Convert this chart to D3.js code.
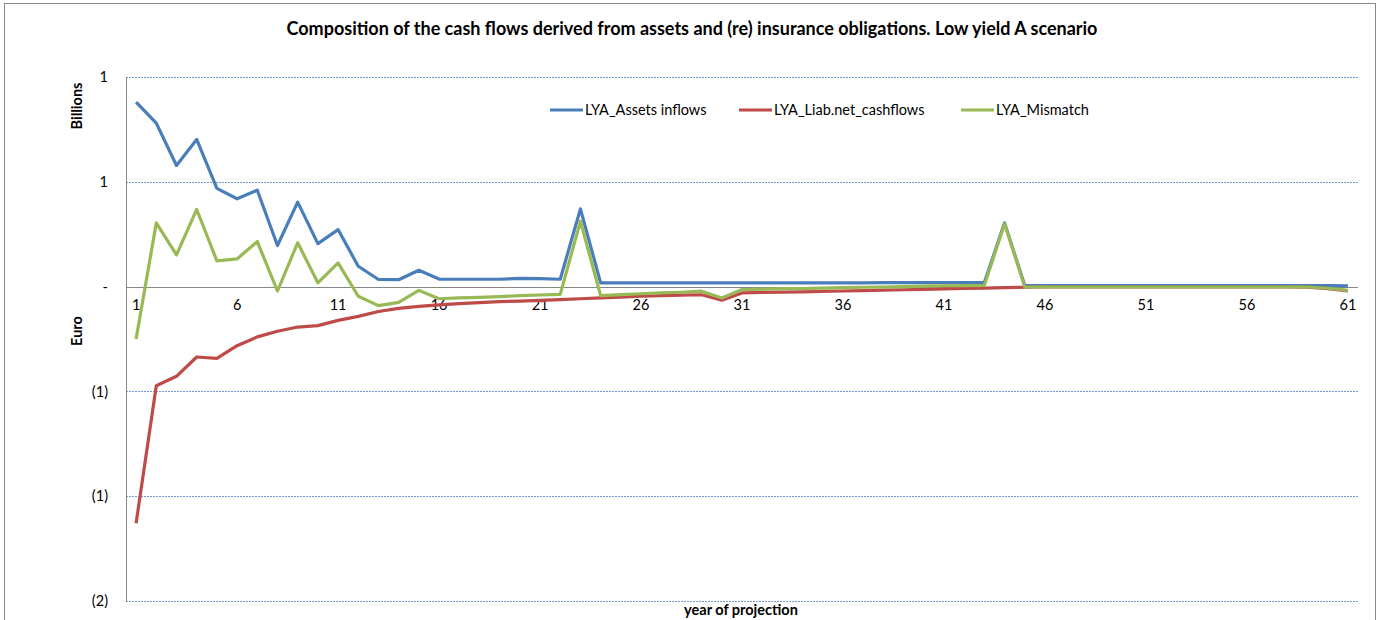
<!DOCTYPE html>
<html><head><meta charset="utf-8">
<script src="https://cdn.jsdelivr.net/npm/d3@7"></script>
<style>body{margin:0;background:#fff}svg{display:block}text{font-family:Lato,"Open Sans",sans-serif}</style>
</head><body><svg id="c" width="1381" height="620"></svg>
<script>
const years = d3.range(1, 62);
const assets = [0.88,0.78,0.578,0.702,0.469,0.419,0.46,0.196,0.403,0.205,0.272,0.097,0.034,0.033,0.078,0.036,0.035,0.035,0.035,0.039,0.038,0.035,0.371,0.018,0.018,0.018,0.018,0.018,0.018,0.018,0.018,0.018,0.018,0.018,0.018,0.018,0.018,0.019,0.019,0.019,0.019,0.019,0.019,0.304,0.005,0.005,0.005,0.005,0.005,0.005,0.005,0.005,0.005,0.005,0.005,0.005,0.005,0.005,0.005,0.005,0.003];
const liab = [-1.129,-0.473,-0.428,-0.336,-0.342,-0.282,-0.240,-0.213,-0.193,-0.186,-0.161,-0.142,-0.119,-0.104,-0.094,-0.087,-0.081,-0.076,-0.072,-0.069,-0.066,-0.062,-0.058,-0.054,-0.050,-0.046,-0.043,-0.041,-0.039,-0.065,-0.030,-0.028,-0.026,-0.025,-0.023,-0.021,-0.019,-0.017,-0.015,-0.013,-0.011,-0.009,-0.007,-0.005,-0.003,-0.002,-0.002,-0.002,-0.002,-0.002,-0.002,-0.002,-0.002,-0.002,-0.002,-0.002,-0.002,-0.002,-0.003,-0.010,-0.020];
const mismatch = [-0.25,0.304,0.151,0.368,0.123,0.132,0.215,-0.021,0.209,0.018,0.113,-0.046,-0.091,-0.075,-0.018,-0.058,-0.054,-0.051,-0.048,-0.043,-0.040,-0.037,0.312,-0.043,-0.038,-0.034,-0.030,-0.027,-0.022,-0.054,-0.014,-0.012,-0.010,-0.009,-0.007,-0.005,-0.003,-0.002,0.0,0.002,0.004,0.005,0.006,0.30,-0.002,-0.002,-0.002,-0.002,-0.002,-0.002,-0.002,-0.002,-0.002,-0.002,-0.002,-0.002,-0.002,-0.002,-0.002,-0.008,-0.018];
const yTicks = [1.0, 0.5, 0, -0.5, -1.0, -1.5];
const yTickLabels = ["1", "1", "-", "(1)", "(1)", "(2)"];
const xTickYears = [1,6,11,16,21,26,31,36,41,46,51,56,61];
const seriesNames = ["LYA_Assets inflows", "LYA_Liab.net_cashflows", "LYA_Mismatch"];
const colors = ["#4A7EBB", "#BE4B48", "#98B954"];

const svg = d3.select("#c");
svg.append("rect").attr("x",4.5).attr("y",3.5).attr("width",1371).attr("height",640)
  .attr("fill","none").attr("stroke","#888").attr("stroke-width",1);

const L = 126, R = 1358, T = 77, B = 601;
const x = d3.scaleBand().domain(years).range([L, R]);
const xc = d => x(d) + x.bandwidth()/2;
const y = d3.scaleLinear().domain([-1.5, 1.0]).range([B, T]);

svg.append("g").selectAll("line").data(yTicks.filter(v => v !== 0)).join("line")
  .attr("x1", L).attr("x2", R).attr("y1", d => Math.round(y(d))+0.5).attr("y2", d => Math.round(y(d))+0.5)
  .attr("stroke", "#6F9BD0").attr("stroke-width", 1).attr("stroke-dasharray", "2,1");

const yAxis = d3.axisLeft(y).tickValues(yTicks).tickSize(0).tickPadding(18)
  .tickFormat((d,i) => yTickLabels[i]);
const gy = svg.append("g").attr("transform", `translate(${L},0)`).call(yAxis);
gy.select(".domain").attr("stroke", "#868686");
gy.selectAll("text").attr("font-size", 14.5).attr("fill", "#000").style("font-family","Lato");

svg.append("line").attr("x1", L).attr("x2", R).attr("y1", Math.round(y(0))+0.5).attr("y2", Math.round(y(0))+0.5)
  .attr("stroke", "#868686").attr("stroke-width", 1);

const xAxis = d3.axisBottom(x).tickValues(xTickYears).tickSize(0).tickPadding(13);
const gx = svg.append("g").attr("transform", `translate(0,${Math.round(y(0))})`).call(xAxis);
gx.select(".domain").remove();
gx.selectAll("text").attr("font-size", 14.5).attr("fill", "#000").style("font-family","Lato");

const line = d3.line().x((d,i) => xc(years[i])).y(d => y(d));
[assets, liab, mismatch].forEach((s, k) => {
  svg.append("path").datum(s).attr("d", line).attr("fill", "none")
    .attr("stroke", colors[k]).attr("stroke-width", 3.2).attr("stroke-linejoin", "round");
});

const legX = [550, 739, 961];
seriesNames.forEach((n, k) => {
  svg.append("line").attr("x1", legX[k]).attr("x2", legX[k]+33).attr("y1", 110).attr("y2", 110)
    .attr("stroke", colors[k]).attr("stroke-width", 3.2);
  svg.append("text").attr("x", legX[k]+35).attr("y", 115).attr("font-size", 14.5).text(n);
});

svg.append("text").attr("x", 692).attr("y", 35).attr("text-anchor", "middle")
  .attr("font-size", 18).attr("font-weight", "bold")
  .text("Composition of the cash flows derived from assets and (re) insurance obligations. Low yield A scenario");

svg.append("text").attr("transform", "translate(82,106) rotate(-90)").attr("text-anchor", "middle")
  .attr("font-size", 14.5).attr("font-weight", "bold").text("Billions");
svg.append("text").attr("transform", "translate(82,331) rotate(-90)").attr("text-anchor", "middle")
  .attr("font-size", 14.5).attr("font-weight", "bold").text("Euro");
svg.append("text").attr("x", 741).attr("y", 615).attr("text-anchor", "middle")
  .attr("font-size", 14.5).attr("font-weight", "bold").text("year of projection");
</script></body></html>
